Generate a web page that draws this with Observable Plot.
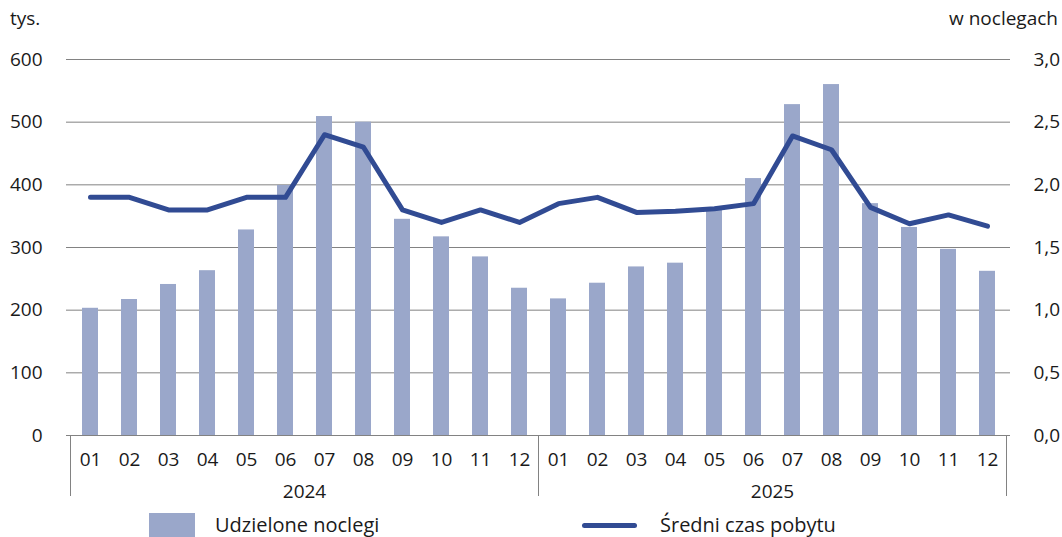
<!DOCTYPE html>
<html>
<head>
<meta charset="utf-8">
<script src="https://cdn.jsdelivr.net/npm/d3@7"></script>
<script src="https://cdn.jsdelivr.net/npm/@observablehq/plot@0.6"></script>
<style>
  html, body { margin: 0; padding: 0; background: #fff; }
  #wrap { position: relative; width: 1062px; height: 537px; overflow: hidden; font-family: "Open Sans", sans-serif; color: #1a1a1a; }
  .lbl { position: absolute; font-size: 19px; white-space: nowrap; }
  .leg { position: absolute; font-size: 20px; white-space: nowrap; }
</style>
</head>
<body>
<div id="wrap">
  <div id="chart"></div>
  <div class="lbl" style="left:10px; top:5px;">tys.</div>
  <div class="lbl" style="right:4px; top:5px;">w noclegach</div>
  <div style="position:absolute; left:149px; top:513px; width:46px; height:30px; background:#9aa7ca;"></div>
  <div class="leg" style="left:215px; top:511px;">Udzielone noclegi</div>
  <div style="position:absolute; left:582px; top:523px; width:55px; height:5px; border-radius:3px; background:#314b93;"></div>
  <div class="leg" style="left:660px; top:511px;">Średni czas pobytu</div>
</div>
<script>
const years = ["2024", "2025"];
const months = ["01","02","03","04","05","06","07","08","09","10","11","12"];
const nights2024 = [203, 217, 241, 263, 328, 399, 509, 500, 345, 317, 285, 235];
const nights2025 = [218, 243, 269, 275, 362, 410, 528, 560, 370, 332, 297, 262];
const stay2024 = [1.9, 1.9, 1.8, 1.8, 1.9, 1.9, 2.4, 2.3, 1.8, 1.7, 1.8, 1.7];
const stay2025 = [1.85, 1.9, 1.78, 1.79, 1.81, 1.85, 2.39, 2.28, 1.82, 1.69, 1.76, 1.67];
const leftTicks = [0, 100, 200, 300, 400, 500, 600];
const ratio = 200; // right axis 0–3,0 mapped to left 0–600

const nightsByYear = {"2024": nights2024, "2025": nights2025};
const stayByYear = {"2024": stay2024, "2025": stay2025};
const data = years.flatMap(y => months.map((m, i) => ({
  key: y + "-" + m, year: y, month: m,
  nights: nightsByYear[y][i], stay: stayByYear[y][i]
})));
const keys = data.map(d => d.key);

const barColor = "#9aa7ca";
const lineColor = "#314b93";
const gridColor = "#828282";
const font = "Open Sans, sans-serif";

function groupSeparators(index, scales, values, dimensions) {
  const x = scales.x;
  const step = x.step();
  const bw = x.bandwidth();
  const g = d3.create("svg:g");
  const bottom = dimensions.height - dimensions.marginBottom;
  const bounds = [];
  years.forEach((y) => {
    const first = x(y + "-01");
    const last = x(y + "-12") + bw;
    const left = first - (step - bw) / 2;
    const right = last + (step - bw) / 2;
    bounds.push(left, right);
    g.append("text")
      .attr("x", (left + right) / 2)
      .attr("y", bottom + 56)
      .attr("dy", "0.35em")
      .attr("text-anchor", "middle")
      .attr("font-size", 19)
      .attr("font-family", font)
      .attr("fill", "#1a1a1a")
      .text(y);
  });
  Array.from(new Set(bounds.map(v => Math.round(v * 10) / 10))).forEach(bx => {
    g.append("line")
      .attr("x1", bx).attr("x2", bx)
      .attr("y1", bottom).attr("y2", bottom + 61)
      .attr("stroke", gridColor).attr("stroke-width", 1);
  });
  return g.node();
}

const chart = Plot.plot({
  width: 1062,
  height: 505,
  marginTop: 59,
  marginBottom: 70,
  marginLeft: 66,
  marginRight: 52,
  style: { fontFamily: font, fontSize: "19px", color: "#1a1a1a", background: "transparent" },
  x: { domain: keys, paddingInner: 0.6, paddingOuter: 0.3, label: null },
  y: { domain: [0, 600], label: null },
  marks: [
    Plot.gridY(leftTicks, { stroke: gridColor, strokeOpacity: 1, strokeWidth: 1 }),
    Plot.barY(data, { x: "key", y: "nights", fill: barColor }),
    Plot.ruleY([0], { stroke: gridColor, strokeWidth: 1 }),
    Plot.lineY(data, { x: "key", y: d => d.stay * ratio, stroke: lineColor, strokeWidth: 5, strokeLinejoin: "round", strokeLinecap: "round" }),
    Plot.axisY(leftTicks, { anchor: "left", tickSize: 0, tickPadding: 24, label: null, fontSize: 19 }),
    Plot.axisY(leftTicks, { anchor: "right", tickSize: 0, tickPadding: 23, label: null, fontSize: 19, textAnchor: "start",
      tickFormat: d => (d / ratio).toFixed(1).replace(".", ",") }),
    Plot.axisX({ tickSize: 0, tickPadding: 17, label: null, fontSize: 19, tickFormat: d => d.slice(5) }),
    groupSeparators
  ]
});
document.getElementById("chart").appendChild(chart);
</script>
</body>
</html>
